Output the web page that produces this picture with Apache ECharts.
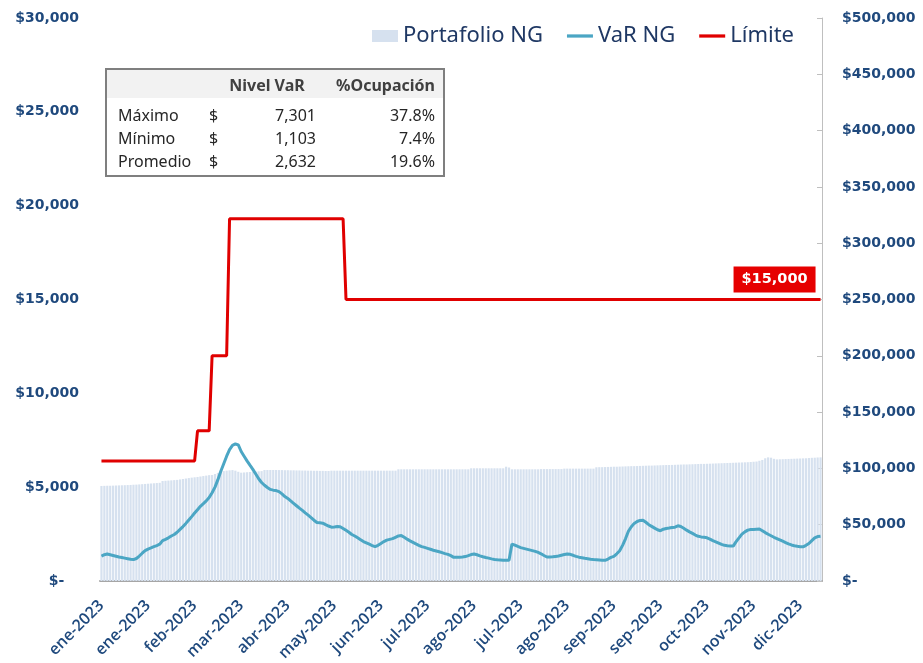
<!DOCTYPE html>
<html><head><meta charset="utf-8">
<script src="https://cdn.jsdelivr.net/npm/echarts@6.0.0/dist/echarts.min.js"></script>
<style>html,body{margin:0;padding:0;background:#fff}#c{width:923px;height:663px}</style>
</head><body><div id="c"></div>
<script>
const tickLabels = ['ene-2023','ene-2023','feb-2023','mar-2023','abr-2023','may-2023','jun-2023','jul-2023','ago-2023','jul-2023','ago-2023','sep-2023','sep-2023','oct-2023','nov-2023','dic-2023'];
const tickEvery = 16;

const portafolio = [
84400,84500,84600,84600,84700,84800,84900,85000,85100,85200,85300,
85500,85600,85800,86000,86200,86400,86600,86800,87000,87200,
88800,89000,89200,89400,89600,89800,90200,90600,91000,91400,91800,
92100,92400,92800,93200,93600,94000,
94100,95000,96000,97000,97600,98000,
98300,98500,98000,97000,
96200,96400,96600,96800,97000,97200,97400,97600,98600,98600,98600,98600,
98600,98500,98500,98400,98400,98300,98300,98200,98200,98100,98100,98000,98000,97900,97900,97800,97800,97700,97700,
98000,98000,98000,98000,98000,98000,98000,98000,98000,98000,98000,98000,98000,98000,98000,98000,98000,98000,98000,98000,98000,98000,98000,
99200,99200,99200,99200,99200,99200,99200,99200,99200,99200,99200,99200,99200,99200,99200,99200,99200,99200,99200,99200,99200,99200,99200,99200,99200,
100100,100100,100100,100100,100100,100100,100100,100100,100100,100100,100100,100100,
101500,100800,
99200,99200,99200,99200,99200,99200,99200,99200,99200,99200,
99400,99400,99400,99400,99400,99400,99400,99400,
99800,99800,99800,99800,99800,99800,99800,99800,99800,99800,99800,
101000,101100,101100,101200,101300,101400,101500,101500,101600,101700,101800,101900,102000,102000,102100,102200,102300,102400,102500,102500,
102600,102700,102800,102900,103000,103000,103100,103200,103300,103400,103500,103500,103600,103700,103800,103900,104000,104000,104100,104200,
104300,104400,104500,104600,104700,104800,104900,105000,105100,105200,105300,105400,105500,105700,105900,106100,106800,
107500,109000,109800,109500,108500,
108000,108100,108200,108300,108400,108500,108600,108700,108800,108900,109000,109200,109400,109500,109700,109800
];

const varNG = [
1330,1400,1440,1400,1360,1320,1280,1250,1220,1190,
1160,1140,1200,1330,1480,1620,1700,1760,1830,1890,
1960,2150,2220,2300,2400,2480,2600,2750,2900,3070,
3250,3430,3620,3800,3980,4120,4270,4450,4700,5000,
5400,5850,6250,6650,7000,7230,7301,7250,6900,6650,
6400,6170,5950,5700,5450,5250,5100,4980,4880,4840,
4820,4760,4640,4500,4400,4270,4140,4010,3880,3760,
3630,3510,3380,3240,3120,3100,3080,3000,2930,2870,
2880,2900,2890,2800,2700,2600,2480,2400,2300,2200,
2100,2030,1960,1890,1830,1900,2000,2100,2180,2220,
2260,2330,2400,2420,2330,2230,2140,2060,1980,1900,
1830,1790,1740,1690,1640,1600,1560,1510,1460,1420,
1350,1260,1260,1270,1280,1300,1350,1410,1440,1400,
1340,1290,1250,1220,1180,1150,1130,1120,1110,1105,
1110,1970,1910,1840,1780,1740,1700,1660,1620,1580,
1520,1450,1360,1280,1280,1290,1310,1330,1370,1410,
1440,1420,1370,1310,1270,1240,1210,1190,1160,1140,
1130,1120,1110,1103,1170,1260,1310,1450,1610,1900,
2250,2650,2890,3070,3170,3230,3240,3130,3000,2910,
2820,2730,2680,2760,2800,2820,2850,2870,2940,2900,
2810,2710,2620,2540,2450,2380,2350,2330,2300,2230,
2150,2090,2020,1950,1900,1880,1870,1860,2100,2300,
2500,2620,2710,2740,2750,2760,2770,2680,2580,2490,
2410,2330,2260,2190,2120,2050,1980,1920,1880,1850,
1830,1820,1900,2000,2150,2300,2370,2390
];

const limite = [
6400,6400,6400,6400,6400,6400,6400,6400,6400,6400,6400,6400,6400,6400,6400,6400,6400,6400,6400,6400,
6400,6400,6400,6400,6400,6400,6400,6400,6400,6400,6400,6400,6400,
8000,8000,8000,8000,8000,
12000,12000,12000,12000,12000,12000,
19300,19300,19300,19300,19300,19300,19300,19300,19300,19300,19300,19300,19300,19300,19300,19300,19300,19300,19300,19300,
19300,19300,19300,19300,19300,19300,19300,19300,19300,19300,19300,19300,19300,19300,19300,19300,19300,19300,19300,19300,
15000,15000,15000,15000,15000,15000,15000,15000,15000,15000,15000,15000,15000,15000,15000,15000,15000,15000,15000,15000,
15000,15000,15000,15000,15000,15000,15000,15000,15000,15000,15000,15000,15000,15000,15000,15000,15000,15000,15000,15000,
15000,15000,15000,15000,15000,15000,15000,15000,15000,15000,15000,15000,15000,15000,15000,15000,15000,15000,15000,15000,
15000,15000,15000,15000,15000,15000,15000,15000,15000,15000,15000,15000,15000,15000,15000,15000,15000,15000,15000,15000,
15000,15000,15000,15000,15000,15000,15000,15000,15000,15000,15000,15000,15000,15000,15000,15000,15000,15000,15000,15000,
15000,15000,15000,15000,15000,15000,15000,15000,15000,15000,15000,15000,15000,15000,15000,15000,15000,15000,15000,15000,
15000,15000,15000,15000,15000,15000,15000,15000,15000,15000,15000,15000,15000,15000,15000,15000,15000,15000,15000,15000,
15000,15000,15000,15000,15000,15000,15000,15000,15000,15000,15000,15000,15000,15000,15000,15000,15000,15000,15000,15000,
15000,15000,15000,15000
];

const tableHeaders = ['Nivel VaR', '%Ocupación'];
const tableRows = ['Máximo', 'Mínimo', 'Promedio'];
const tableVaR = ['7,301', '1,103', '2,632'];
const tableOcup = ['37.8%', '7.4%', '19.6%'];

const navy = '#1f497d';
const money = v => v === 0 ? '$-' : '$' + v.toLocaleString('en-US');
const categories = varNG.map((_, i) => i);

const tableFont = '16px "Noto Sans"';
const graphics = [
  {type:'rect', shape:{x:106,y:69,width:338,height:29}, style:{fill:'#f2f2f2'}, z:10},
  {type:'rect', shape:{x:106,y:69,width:338,height:107}, style:{fill:'none', stroke:'#7f7f7f', lineWidth:2}, z:11},
  {type:'text', x:267, y:86, style:{text:tableHeaders[0], font:'bold 16px "Noto Sans"', fill:'#404040', align:'center', verticalAlign:'middle'}, z:12},
  {type:'text', x:435, y:86, style:{text:tableHeaders[1], font:'bold 16px "Noto Sans"', fill:'#404040', align:'right', verticalAlign:'middle'}, z:12}
];
const rowY = [116, 139, 162];
tableRows.forEach((r, k) => {
  graphics.push({type:'text', x:118, y:rowY[k], style:{text:r, font:tableFont, fill:'#262626', align:'left', verticalAlign:'middle'}, z:12});
  graphics.push({type:'text', x:209, y:rowY[k], style:{text:'$', font:tableFont, fill:'#262626', align:'left', verticalAlign:'middle'}, z:12});
  graphics.push({type:'text', x:316, y:rowY[k], style:{text:tableVaR[k], font:tableFont, fill:'#262626', align:'right', verticalAlign:'middle'}, z:12});
  graphics.push({type:'text', x:435, y:rowY[k], style:{text:tableOcup[k], font:tableFont, fill:'#262626', align:'right', verticalAlign:'middle'}, z:12});
});

const lineIcon = 'path://M0,0H24V3H0Z';
const chart = echarts.init(document.getElementById('c'), null, {renderer:'canvas'});
const last = limite.length - 1;
chart.setOption({
  animation: false,
  backgroundColor: '#fff',
  grid: {left:100, right:101, top:18, bottom:82, containLabel:false, outerBoundsMode:'none'},
  legend: {
    right: 124, top: 20, itemGap: 24, itemWidth: 26, itemHeight: 12,
    textStyle: {fontFamily:'"Noto Sans"', fontSize:22, color:'#1f3864'},
    data: [{name:'Portafolio NG', icon:'rect'}, {name:'VaR NG', icon: lineIcon}, {name:'Límite', icon: lineIcon}]
  },
  xAxis: {
    type:'category', data: categories, boundaryGap: true,
    axisLine: {show:true, lineStyle:{color:'#a6a6a6', width:2}},
    axisTick: {show:false},
    splitLine: {show:false},
    axisLabel: {
      interval: tickEvery - 1, rotate: 45, margin: 22,
      color: navy, fontFamily:'"Open Sans"', fontWeight: 600, fontSize: 16,
      formatter: (v, idx) => tickLabels[Math.round(idx / tickEvery)] || ''
    }
  },
  yAxis: [
    {type:'value', min:0, max:30000, interval:5000, position:'left',
     axisLine:{show:false}, axisTick:{show:false}, splitLine:{show:false},
     axisLabel:{margin:21, color:navy, fontFamily:'"DejaVu Sans"', fontWeight:'bold', fontSize:14,
       formatter: v => v === 0 ? '$-   ' : money(v)}},
    {type:'value', min:0, max:500000, interval:50000, position:'right',
     axisLine:{show:true, lineStyle:{color:'#bfbfbf', width:1}},
     axisTick:{show:true, inside:true, length:5, lineStyle:{color:'#bfbfbf'}},
     splitLine:{show:false},
     axisLabel:{margin:20, color:navy, fontFamily:'"DejaVu Sans"', fontWeight:'bold', fontSize:14, formatter: money}}
  ],
  graphic: graphics,
  series: [
    {name:'Portafolio NG', type:'bar', yAxisIndex:1, data: portafolio, barWidth:'75%',
     itemStyle:{color:'#d6e1ef'}, z:1},
    {name:'VaR NG', type:'line', yAxisIndex:0, data: varNG, symbol:'none', showSymbol:false,
     lineStyle:{color:'#4ba6c4', width:3}, itemStyle:{color:'#4ba6c4'}, z:3},
    {name:'Límite', type:'line', yAxisIndex:0, data: limite, symbol:'none', showSymbol:false,
     lineStyle:{color:'#e00000', width:3}, itemStyle:{color:'#e00000'}, z:4,
     markPoint:{
       symbol:'rect', symbolSize:[82,26], symbolOffset:[-46,-20],
       itemStyle:{color:'#e60000'},
       label:{show:true, color:'#fff', fontFamily:'"DejaVu Sans"', fontWeight:'bold', fontSize:14.5,
         formatter: p => money(p.value)},
       data:[{coord:[last, limite[last]], value: limite[last]}]
     }}
  ]
});
</script>
</body></html>
